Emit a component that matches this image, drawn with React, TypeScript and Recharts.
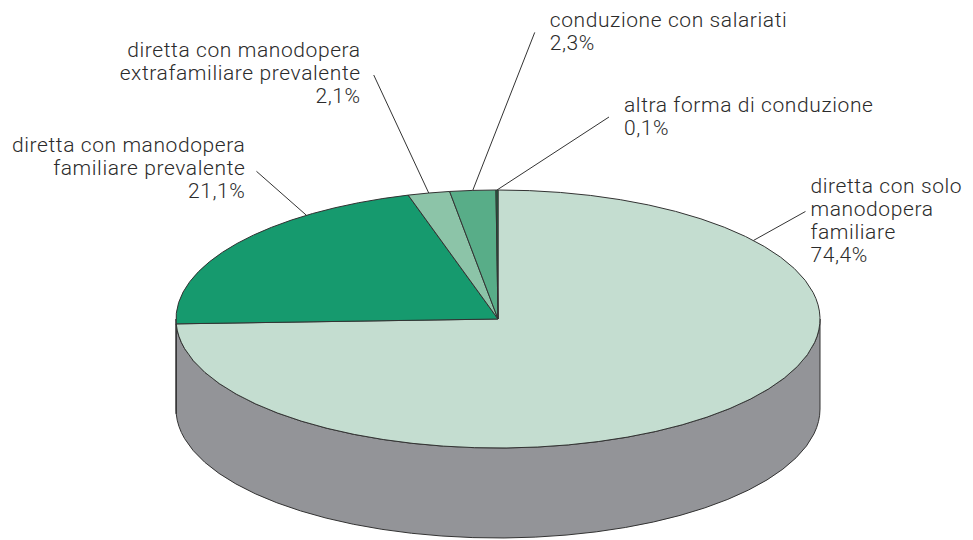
import React from 'react';
import { PieChart, Pie } from 'recharts';

// ---- data ----
const categories = [
  'diretta con solo manodopera familiare',
  'diretta con manodopera familiare prevalente',
  'diretta con manodopera extrafamiliare prevalente',
  'conduzione con salariati',
  'altra forma di conduzione',
];
const values = [74.4, 21.1, 2.1, 2.3, 0.1];
const valueLabels = ['74,4%', '21,1%', '2,1%', '2,3%', '0,1%'];
const labelTexts = [
  ['diretta con solo', 'manodopera', 'familiare'],
  ['diretta con manodopera', 'familiare prevalente'],
  ['diretta con manodopera', 'extrafamiliare prevalente'],
  ['conduzione con salariati'],
  ['altra forma di conduzione'],
];

// ---- style ----
const colors = ['#c4ddd0', '#169a6e', '#8cc4a8', '#58ad88', '#1d6a45'];
const SIDE = '#939498';
const EDGE = '#333333';
const SQUASH = 129 / 322;
const DEPTH = 90;
const RAD = Math.PI / 180;
const FONT = { fontFamily: 'Roboto, "Liberation Sans", sans-serif', fontWeight: 300, fontSize: 21, letterSpacing: 0.6 };
const LINE_H = 23;

// label layout: optional anchor angle override, leader line end offset, text offset, alignment
const labelLayout = [
  { angle: 37.5, line: [52, -29], text: [5, -18.5], anchor: 'start' },
  { angle: 126.5, line: [-50, -44], text: [-11, -19.8], anchor: 'end' },
  { angle: null, line: [-55, -118], text: [-13, -18.5], anchor: 'end' },
  { angle: null, line: [62, -158], text: [15, -5], anchor: 'start' },
  { angle: null, line: [112, -73], text: [15, -5.3], anchor: 'start' },
];

const data = categories.map((name, i) => ({ name, value: values[i] }));

const ellPt = (cx: number, cy: number, rx: number, ry: number, a: number): [number, number] => [
  cx + rx * Math.cos(a * RAD),
  cy - ry * Math.sin(a * RAD),
];

const renderSlice = (props: any) => {
  const { cx, cy, outerRadius, startAngle, endAngle, index } = props;
  const rx = outerRadius;
  const ry = outerRadius * SQUASH;
  const lo = Math.min(startAngle, endAngle);
  const hi = Math.max(startAngle, endAngle);
  const sides: string[] = [];
  for (const k of [-1, 0, 1]) {
    const a0 = Math.max(lo, -180 + 360 * k);
    const a1 = Math.min(hi, 360 * k);
    if (a1 > a0) {
      const p1 = ellPt(cx, cy, rx, ry, a1);
      const p0 = ellPt(cx, cy, rx, ry, a0);
      sides.push(
        `M${p1[0]},${p1[1]} A${rx},${ry} 0 0 1 ${p0[0]},${p0[1]} L${p0[0]},${p0[1] + DEPTH} A${rx},${ry} 0 0 0 ${p1[0]},${p1[1] + DEPTH} Z`
      );
    }
  }
  const ps = ellPt(cx, cy, rx, ry, startAngle);
  const pe = ellPt(cx, cy, rx, ry, endAngle);
  const large = hi - lo > 180 ? 1 : 0;
  const sweep = startAngle > endAngle ? 1 : 0;
  const top = `M${cx},${cy} L${ps[0]},${ps[1]} A${rx},${ry} 0 ${large} ${sweep} ${pe[0]},${pe[1]} Z`;
  return (
    <g key={`slice-${index}`}>
      {sides.map((d, j) => (
        <path key={j} d={d} fill={SIDE} stroke={EDGE} strokeWidth={1} strokeLinejoin="round" />
      ))}
      <path d={top} fill={colors[index]} stroke={EDGE} strokeWidth={1} strokeLinejoin="round" />
    </g>
  );
};

const renderLabel = (props: any) => {
  const { cx, cy, outerRadius, midAngle, index } = props;
  const rx = outerRadius;
  const ry = outerRadius * SQUASH;
  const lay = labelLayout[index];
  const a = lay.angle ?? midAngle;
  const p = ellPt(cx, cy, rx, ry, a);
  const le = [p[0] + lay.line[0], p[1] + lay.line[1]];
  const tx = le[0] + lay.text[0];
  const ty = le[1] + lay.text[1];
  const lines = [...labelTexts[index], valueLabels[index]];
  return (
    <g key={`label-${index}`}>
      <line x1={p[0]} y1={p[1]} x2={le[0]} y2={le[1]} stroke={EDGE} strokeWidth={1} />
      <text x={tx} y={ty} textAnchor={lay.anchor} fill="#2b2b2b" {...FONT}>
        {lines.map((l, j) => (
          <tspan key={j} x={tx} dy={j === 0 ? 0 : LINE_H}>
            {l}
          </tspan>
        ))}
      </text>
    </g>
  );
};

export default function App() {
  return (
    <div style={{ width: 973, height: 540, background: '#ffffff' }}>
      <style>{`body{margin:0;}`}</style>
      <PieChart width={973} height={540} margin={{ top: 0, right: 0, bottom: 0, left: 0 }}>
        <Pie
          data={data}
          dataKey="value"
          nameKey="name"
          cx={498}
          cy={319}
          innerRadius={0}
          outerRadius={322}
          startAngle={90}
          endAngle={-270}
          fill="transparent"
          stroke="none"
          label={renderSlice}
          labelLine={false}
          isAnimationActive={false}
        />
        <Pie
          data={data}
          dataKey="value"
          nameKey="name"
          cx={498}
          cy={319}
          innerRadius={0}
          outerRadius={322}
          startAngle={90}
          endAngle={-270}
          fill="transparent"
          stroke="none"
          label={renderLabel}
          labelLine={false}
          isAnimationActive={false}
        />
      </PieChart>
    </div>
  );
}
